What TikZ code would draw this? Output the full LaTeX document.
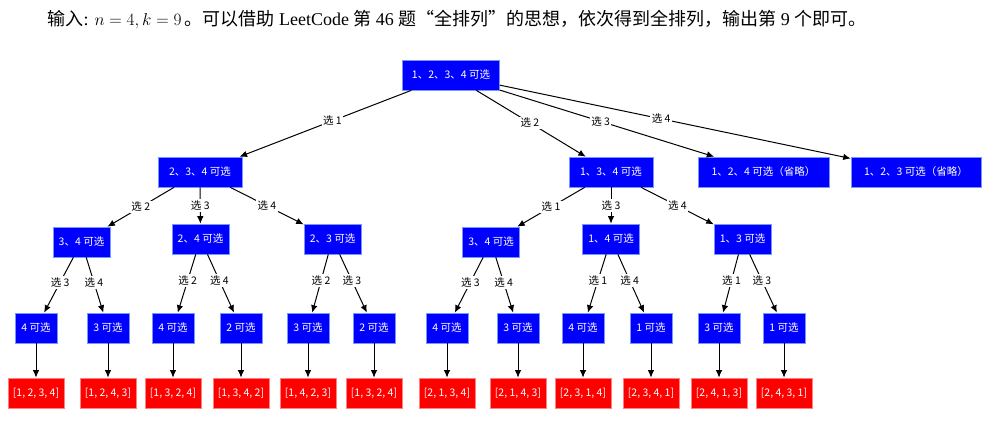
\documentclass[tikz,border=0pt]{standalone}
\usepackage{fontspec}
\setmainfont{Liberation Serif}
\newfontfamily\zh{Noto Sans CJK SC}
\usetikzlibrary{arrows.meta}
\definecolor{pickblue}{RGB}{0,0,255}
\definecolor{pickedge}{RGB}{120,150,255}
\definecolor{donered}{RGB}{255,0,0}
\definecolor{doneedge}{RGB}{255,130,130}

\begin{document}
\begin{tikzpicture}[
    x=1pt, y=-1pt,
    box/.style={fill=pickblue, draw=pickedge, line width=0.6pt, text=white, minimum height=30pt, inner sep=0pt, font=\zh\fontsize{10.5}{12}\selectfont},
    leaf/.style={box, minimum width=42pt},
    res/.style={box, fill=donered, draw=doneedge, minimum width=56pt},
    lbl/.style={fill=white, inner sep=1.5pt, font=\zh\fontsize{10.5}{12}\selectfont},
    link/.style={->, line width=1pt},
    >={Latex[length=7.5pt,width=6.5pt]}
]
\useasboundingbox (0,0) rectangle (985,440);
\node[anchor=west, font=\fontsize{18}{21}\selectfont] (title) at (44,20)
  {{\zh 输入}: $n=4, k=9$\,{\zh 。可以借助} LeetCode {\zh 第} 46 {\zh 题“全排列”的思想，依次得到全排列，输出第} 9 {\zh 个即可。}};

% first choices
\node[box, minimum width=97pt] (root) at (451,75) {1、2、3、4 可选};
\node[box, minimum width=84pt] (a1) at (200,172) {2、3、4 可选};
\node[box, minimum width=84pt] (a2) at (611,172) {1、3、4 可选};
\node[box, minimum width=131pt] (a3) at (763.5,172) {1、2、4 可选（省略）};
\node[box, minimum width=130pt] (a4) at (916,172) {1、2、3 可选（省略）};
\draw[link] (root) -- node[lbl, pos=0.46]{选 1} (a1);
\draw[link] (root) -- node[lbl, pos=0.49]{选 2} (a2);
\draw[link] (root) -- node[lbl, pos=0.47]{选 3} (a3);
\draw[link] (root) -- node[lbl, pos=0.46]{选 4} (a4);

% second choices
\node[box, minimum width=57pt] (b1) at (81.5,242) {3、4 可选};
\node[box, minimum width=57pt] (b2) at (200.5,239) {2、4 可选};
\node[box, minimum width=57pt] (b3) at (332.5,239) {2、3 可选};
\node[box, minimum width=57pt] (b4) at (491,242) {3、4 可选};
\node[box, minimum width=57pt] (b5) at (611,239) {1、4 可选};
\node[box, minimum width=57pt] (b6) at (742.5,239) {1、3 可选};
\draw[link] (a1) -- node[lbl]{选 2} (b1);
\draw[link] (a1) -- node[lbl]{选 3} (b2);
\draw[link] (a1) -- node[lbl]{选 4} (b3);
\draw[link] (a2) -- node[lbl]{选 1} (b4);
\draw[link] (a2) -- node[lbl]{选 3} (b5);
\draw[link] (a2) -- node[lbl]{选 4} (b6);

% last choices
\node[leaf] (c1) at (36,328) {4 可选};
\node[leaf] (c2) at (108,328) {3 可选};
\node[leaf] (c3) at (173,328) {4 可选};
\node[leaf] (c4) at (241,328) {2 可选};
\node[leaf] (c5) at (308,328) {3 可选};
\node[leaf] (c6) at (374,328) {2 可选};
\node[leaf] (c7) at (447,328) {4 可选};
\node[leaf] (c8) at (518,328) {3 可选};
\node[leaf] (c9) at (583,328) {4 可选};
\node[leaf] (c10) at (651,328) {1 可选};
\node[leaf] (c11) at (719,328) {3 可选};
\node[leaf] (c12) at (784,328) {1 可选};
\draw[link] (b1) -- node[lbl, pos=0.45]{选 3} (c1);
\draw[link] (b1) -- node[lbl, pos=0.45]{选 4} (c2);
\draw[link] (b2) -- node[lbl, pos=0.45]{选 2} (c3);
\draw[link] (b2) -- node[lbl, pos=0.45]{选 4} (c4);
\draw[link] (b3) -- node[lbl, pos=0.45]{选 2} (c5);
\draw[link] (b3) -- node[lbl, pos=0.45]{选 3} (c6);
\draw[link] (b4) -- node[lbl, pos=0.45]{选 3} (c7);
\draw[link] (b4) -- node[lbl, pos=0.45]{选 4} (c8);
\draw[link] (b5) -- node[lbl, pos=0.45]{选 1} (c9);
\draw[link] (b5) -- node[lbl, pos=0.45]{选 4} (c10);
\draw[link] (b6) -- node[lbl, pos=0.45]{选 1} (c11);
\draw[link] (b6) -- node[lbl, pos=0.45]{选 3} (c12);

% permutations
\node[res] (r1) at (36,393) {[1, 2, 3, 4]};
\node[res] (r2) at (108,393) {[1, 2, 4, 3]};
\node[res] (r3) at (173,393) {[1, 3, 2, 4]};
\node[res] (r4) at (241,393) {[1, 3, 4, 2]};
\node[res] (r5) at (308,393) {[1, 4, 2, 3]};
\node[res] (r6) at (374,393) {[1, 3, 2, 4]};
\node[res] (r7) at (447,393) {[2, 1, 3, 4]};
\node[res] (r8) at (518,393) {[2, 1, 4, 3]};
\node[res] (r9) at (583,393) {[2, 3, 1, 4]};
\node[res] (r10) at (651,393) {[2, 3, 4, 1]};
\node[res] (r11) at (719,393) {[2, 4, 1, 3]};
\node[res] (r12) at (784,393) {[2, 4, 3, 1]};
\draw[link] (c1) -- (r1);
\draw[link] (c2) -- (r2);
\draw[link] (c3) -- (r3);
\draw[link] (c4) -- (r4);
\draw[link] (c5) -- (r5);
\draw[link] (c6) -- (r6);
\draw[link] (c7) -- (r7);
\draw[link] (c8) -- (r8);
\draw[link] (c9) -- (r9);
\draw[link] (c10) -- (r10);
\draw[link] (c11) -- (r11);
\draw[link] (c12) -- (r12);
\end{tikzpicture}
\end{document}
